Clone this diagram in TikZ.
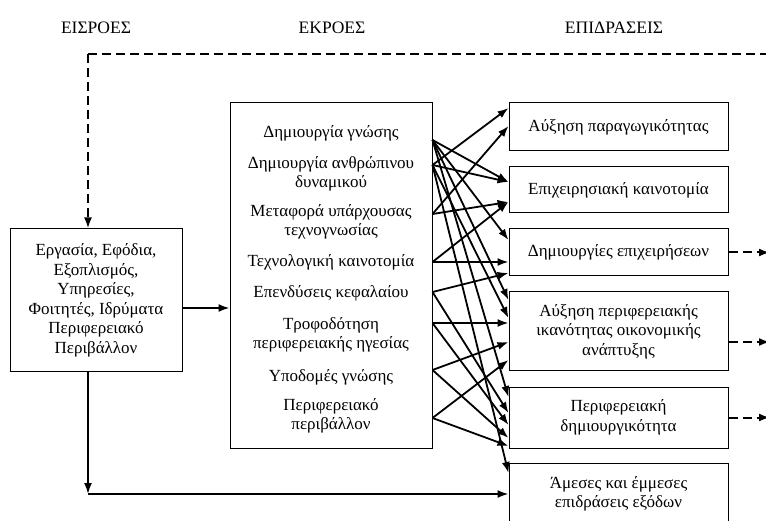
\documentclass[tikz,border=0pt]{standalone}
\usepackage{fontspec}
\setmainfont{Liberation Serif}
\usetikzlibrary{arrows.meta}
\begin{document}
\begin{tikzpicture}[x=1pt,y=-1pt,
        txt/.style={font=\fontsize{17}{19.5}\selectfont},
        box/.style={draw,line width=1pt,inner sep=0pt,align=center,txt},
        item/.style={align=center,inner sep=0pt,txt},
        head/.style={font=\fontsize{17.5}{20}\selectfont,inner sep=0pt},
        link/.style={line width=1.8pt,-{Latex[length=11pt,width=8pt]}},
        back/.style={line width=2pt,dash pattern=on 9pt off 5pt}]
                \useasboundingbox (0,0) rectangle (766,521);
                \clip (0,0) rectangle (766,521);
                \node[head] (hin) at (96,28) {ΕΙΣΡΟΕΣ};
                \node[head] (hout) at (332,28) {ΕΚΡΟΕΣ};
                \node[head] (himp) at (614,28) {ΕΠΙΔΡΑΣΕΙΣ};
                \node[box,minimum width=172pt,minimum height=143pt]
                    (in) at (96,300.5) {Εργασία, Εφόδια,\\Εξοπλισμός,\\Υπηρεσίες,\\Φοιτητές, Ιδρύματα\\Περιφερειακό\\Περιβάλλον};
                \node[box,minimum width=202pt,minimum height=345pt]
                    (mid) at (331,275.5) {};
                \node[item] (m1) at (331,133) {Δημιουργία γνώσης};
                \node[item] (m2) at (331,174) {Δημιουργία ανθρώπινου\\δυναμικού};
                \node[item] (m3) at (331,222) {Μεταφορά υπάρχουσας\\τεχνογνωσίας};
                \node[item] (m4) at (331,262) {Τεχνολογική καινοτομία};
                \node[item] (m5) at (331,293) {Επενδύσεις κεφαλαίου};
                \node[item] (m6) at (331,335) {Τροφοδότηση\\περιφερειακής ηγεσίας};
                \node[item] (m7) at (331,377) {Υποδομές γνώσης};
                \node[item] (m8) at (331,416) {Περιφερειακό\\περιβάλλον};
                \node[box,minimum width=219pt,minimum height=48pt]
                    (r1) at (618.5,127) {Αύξηση παραγωγικότητας};
                \node[box,minimum width=219pt,minimum height=46pt]
                    (r2) at (618.5,190) {Επιχειρησιακή καινοτομία};
                \node[box,minimum width=219pt,minimum height=47pt]
                    (r3) at (618.5,252.5) {Δημιουργίες επιχειρήσεων};
                \node[box,minimum width=219pt,minimum height=79pt]
                    (r4) at (618.5,331.5) {Αύξηση περιφερειακής\\ικανότητας οικονομικής\\ανάπτυξης};
                \node[box,minimum width=219pt,minimum height=61pt]
                    (r5) at (618.5,417.5) {Περιφερειακή\\δημιουργικότητα};
                \node[box,minimum width=219pt,minimum height=62pt]
                    (r6) at (618.5,494) {Άμεσες και έμμεσες\\επιδράσεις εξόδων};
                \coordinate (s1) at (mid.east |- 0,140);
                \coordinate (s2) at (mid.east |- 0,165);
                \coordinate (s3) at (mid.east |- 0,214);
                \coordinate (s4) at (mid.east |- 0,262);
                \coordinate (s5) at (mid.east |- 0,292);
                \coordinate (s6) at (mid.east |- 0,323);
                \coordinate (s7) at (mid.east |- 0,370);
                \coordinate (s8) at (mid.east |- 0,418);
                \coordinate (top) at (88,54);
                \coordinate (edge) at (770,54);
                \coordinate (corner) at (88,494);
                \coordinate (feed) at ([yshift=-7.5pt]in.east);
                \coordinate (o4) at ([yshift=-10.5pt]r4.east);
                \draw[back] (top) -- (edge);
                \draw[back,-{Latex[length=11pt,width=8pt]}] (top) -- (top |- in.north);
                \draw[link] (feed) -- (feed -| mid.west);
                \draw[link] (corner |- in.south) -- (corner);
                \draw[link] (corner) -- (corner -| r6.west);
                \draw[link] (s2) -- ([yshift=19pt]r1.west);
                \draw[link] (s3) -- ([yshift=1pt]r1.west);
                \draw[link] (s1) -- ([yshift=8pt]r2.west);
                \draw[link] (s2) -- ([yshift=8pt]r2.west);
                \draw[link] (s3) -- ([yshift=-12pt]r2.west);
                \draw[link] (s4) -- ([yshift=-12pt]r2.west);
                \draw[link] (s1) -- ([yshift=12.5pt]r3.west);
                \draw[link] (s4) -- (s4 -| r3.west);
                \draw[link] (s5) -- ([yshift=-20.5pt]r3.west);
                \draw[link] (s1) -- ([yshift=31.5pt]r4.west);
                \draw[link] (s2) -- ([yshift=13.5pt]r4.west);
                \draw[link] (s6) -- (s6 -| r4.west);
                \draw[link] (s7) -- ([yshift=-10.5pt]r4.west);
                \draw[link] (s8) -- ([yshift=-28.5pt]r4.west);
                \draw[link] (s1) -- ([yshift=20.5pt]r5.west);
                \draw[link] (s5) -- ([yshift=4.5pt]r5.west);
                \draw[link] (s6) -- ([yshift=-7.5pt]r5.west);
                \draw[link] (s7) -- ([yshift=-20.5pt]r5.west);
                \draw[link] (s8) -- ([yshift=-28.5pt]r5.west);
                \draw[link] (s2) -- ([yshift=21pt]r6.west);
                \draw[back,-{Latex[length=11pt,width=8pt]}] (r3.east) -- (r3.east -| edge);
                \draw[back,-{Latex[length=11pt,width=8pt]}] (o4) -- (o4 -| edge);
                \draw[back,-{Latex[length=11pt,width=8pt]}] (r5.east) -- (r5.east -| edge);
            \end{tikzpicture}
\end{document}
